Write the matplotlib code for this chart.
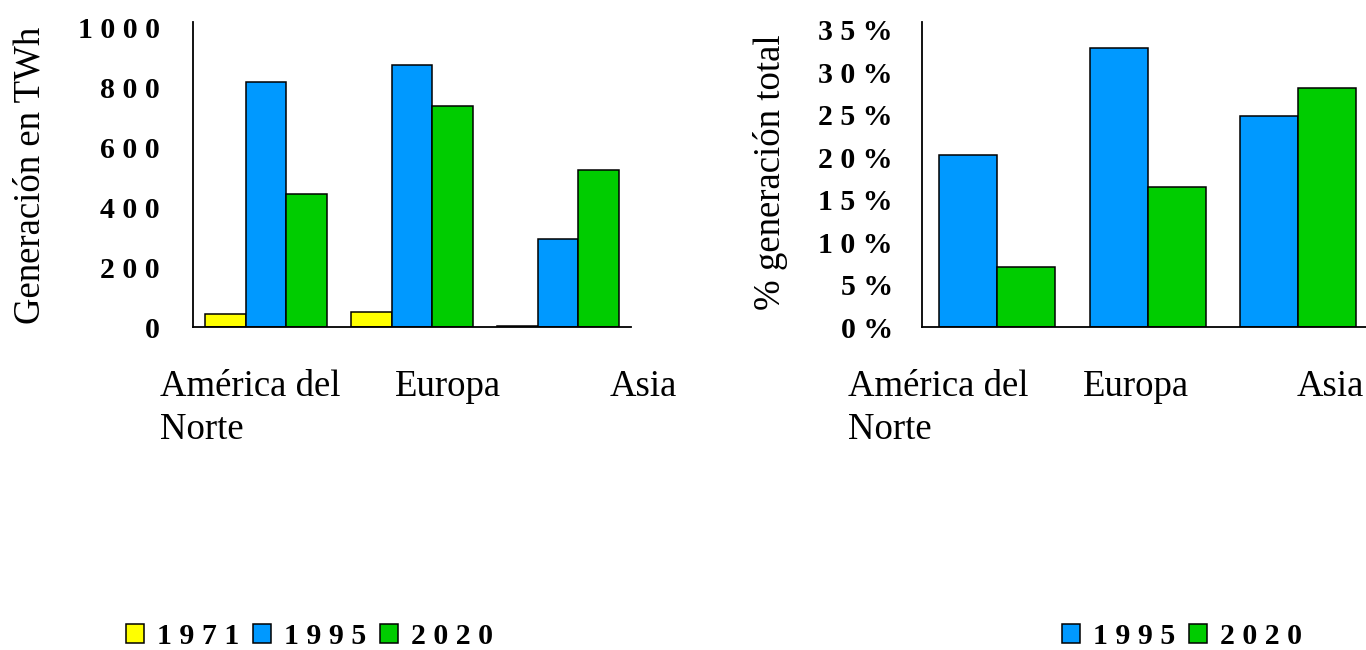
import numpy as np
import matplotlib
matplotlib.use("Agg")
import matplotlib.pyplot as plt

# Data
regions = ["América del\nNorte", "Europa", "Asia"]
years_abs = ["1971", "1995", "2020"]
gen_1971 = [43, 50, 5]
gen_1995 = [817, 873, 293]
gen_2020 = [443, 737, 523]

years_pct = ["1995", "2020"]
pct_1995 = [20.3, 32.9, 24.9]
pct_2020 = [7.1, 16.5, 28.2]

abs_ticks = [0, 200, 400, 600, 800, 1000]
pct_ticks = [0, 5, 10, 15, 20, 25, 30, 35]

colors = {"1971": "#FFFF00", "1995": "#0099FF", "2020": "#00CC00"}

W, H = 1366, 650
fig = plt.figure(figsize=(W / 100, H / 100), dpi=100)

SERIF = ["Liberation Serif", "DejaVu Serif"]
tick_font = dict(family=SERIF, weight="bold", size=21.5)


def spaced(s):
    return " ".join(s)


def style_axes(ax, ticks, fmt, pad):
    for side in ("top", "right"):
        ax.spines[side].set_visible(False)
    for side in ("left", "bottom"):
        ax.spines[side].set_linewidth(1.3)
        ax.spines[side].set_color("black")
    ax.set_xticks([])
    ax.set_yticks(ticks)
    ax.set_yticklabels([fmt(t) for t in ticks], fontdict=tick_font)
    ax.tick_params(axis="y", length=0, pad=pad)
    ax.set_xlim(-0.5, 2.5)


# Left chart: generation in TWh
ax1 = fig.add_axes([193 / W, 1 - 327 / H, 438 / W, 305 / H])
x = np.arange(len(regions))
w1 = 0.28
series1 = [gen_1971, gen_1995, gen_2020]
handles1 = []
for i, (yr, vals) in enumerate(zip(years_abs, series1)):
    b = ax1.bar(x + (i - 1) * w1, vals, w1, color=colors[yr],
                edgecolor="black", linewidth=1.1, label=spaced(yr))
    handles1.append(b)
ax1.set_ylim(0, 1017)
style_axes(ax1, abs_ticks, lambda t: spaced(f"{t}"), 24)

# Right chart: share of total generation
ax2 = fig.add_axes([922 / W, 1 - 327 / H, 451.5 / W, 305 / H])
w2 = 0.385
series2 = [pct_1995, pct_2020]
handles2 = []
for i, (yr, vals) in enumerate(zip(years_pct, series2)):
    b = ax2.bar(x + (i - 0.5) * w2, vals, w2, color=colors[yr],
                edgecolor="black", linewidth=1.1, label=spaced(yr))
    handles2.append(b)
ax2.set_ylim(0, 35.94)
style_axes(ax2, pct_ticks, lambda t: spaced(f"{t}%"), 21)

# Axis titles
label_font = dict(family=SERIF, size=26.5)
fig.text(30 / W, 1 - 175 / H, "Generación en TWh", rotation=90,
         ha="center", va="center", **label_font)
fig.text(770 / W, 1 - 172 / H, "% generación total", rotation=90,
         ha="center", va="center", **label_font)

# Region names under each chart
left_x = [160, 395, 610]
right_x = [848, 1083, 1297]
for xs in (left_x, right_x):
    for px, name in zip(xs, regions):
        fig.text(px / W, 1 - 370 / H, name, ha="left", va="top",
                 linespacing=1.32, **label_font)

# Legends
leg_font = dict(family=SERIF, weight="bold", size=21.5)
leg_kw = dict(frameon=False, prop=leg_font, ncol=3, handlelength=0.6,
              handleheight=0.6, handletextpad=0.45, columnspacing=0.45,
              borderpad=0, borderaxespad=0, loc="center left")
fig.legend(handles=handles1, labels=[spaced(y) for y in years_abs],
           bbox_to_anchor=(126 / W, 1 - 637 / H), **leg_kw)
fig.legend(handles=handles2, labels=[spaced(y) for y in years_pct],
           bbox_to_anchor=(1062 / W, 1 - 637 / H), **leg_kw)

fig.savefig("out.png", dpi=100)
